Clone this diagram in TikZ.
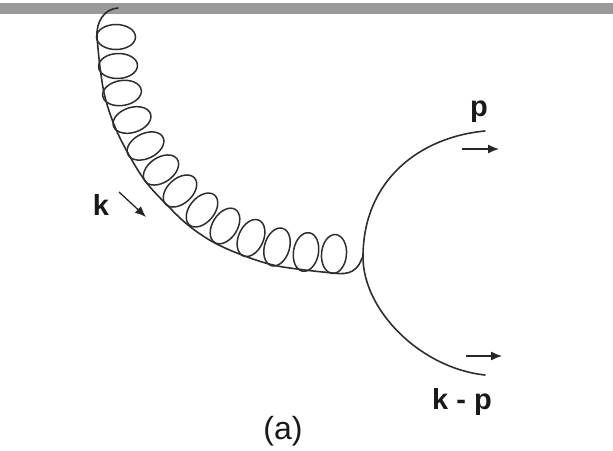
\documentclass[tikz,border=0pt]{standalone}
\usepackage{fontspec}
\setmainfont{Liberation Sans}
\usetikzlibrary{arrows.meta}
\definecolor{barc}{HTML}{9A9A9A}
\definecolor{ink}{HTML}{2E2E2E}
\tikzset{
  wire/.style={draw=ink,line width=1.6pt,line cap=round},
  coil/.style={draw=ink,line width=1.5pt},
  mom/.style={draw=black!85,line width=1.3pt,-{Latex[length=11pt,width=9pt]}},
  lab/.style={font=\bfseries\fontsize{29}{29}\selectfont,inner sep=0pt,text=black!90},
}
\begin{document}
\begin{tikzpicture}[x=1pt,y=-1pt]
\useasboundingbox (0,0) rectangle (613,450);
\fill[barc] (0,3) rectangle (613,14);
% gluon coil
\foreach \cx/\cy/\ang in {116/37/0,118/66/2,122/93/9,132/120/18,145.5/146/26,161/170/34,180/191/42,202/210/50,225/226/58,251/238/66,277/247/73,306/252/80,334/254/85}{
  \draw[coil,rotate around={\ang:(\cx,\cy)}] (\cx,\cy) ellipse [x radius=19.5,y radius=12.5];
}
\draw[wire] (118,8) .. controls (104,9) and (96,22) .. (97,37)
  plot[smooth,tension=0.6] coordinates {(97,37) (100,67) (105,97) (115,127) (129,155) (146,182) (167,205) (188,225) (213,242) (242,255) (273,265) (305,270) (333,273)}
  (333,273) .. controls (342,274) and (356,276) .. (362,258);
% quark arcs
\coordinate (vtx) at (363,257);
\coordinate (pend) at (485,131);
\coordinate (qend) at (485,375);
\draw[wire] (pend) .. controls (420,137) and (363,180) .. (vtx)
  .. controls (363,310) and (420,368) .. (qend);
% momentum arrows
\coordinate (pa) at (462,149);\coordinate (pb) at (499,149);
\coordinate (qa) at (466,356);\coordinate (qb) at (502,356);
\coordinate (ka) at (119,192);\coordinate (kb) at (146,217);
\draw[mom] (pa) -- (pb);
\draw[mom] (qa) -- (qb);
\draw[mom] (ka) -- (kb);
% labels
\node[lab] (lp) at (479,112) {p};
\node[lab] (lk) at (101,205) {k};
\node[lab] (lq) at (462,402) {k - p};
\node[font=\fontsize{32}{32}\selectfont,inner sep=0pt,text=black!90] (la) at (283,431) {(a)};
\end{tikzpicture}
\end{document}
